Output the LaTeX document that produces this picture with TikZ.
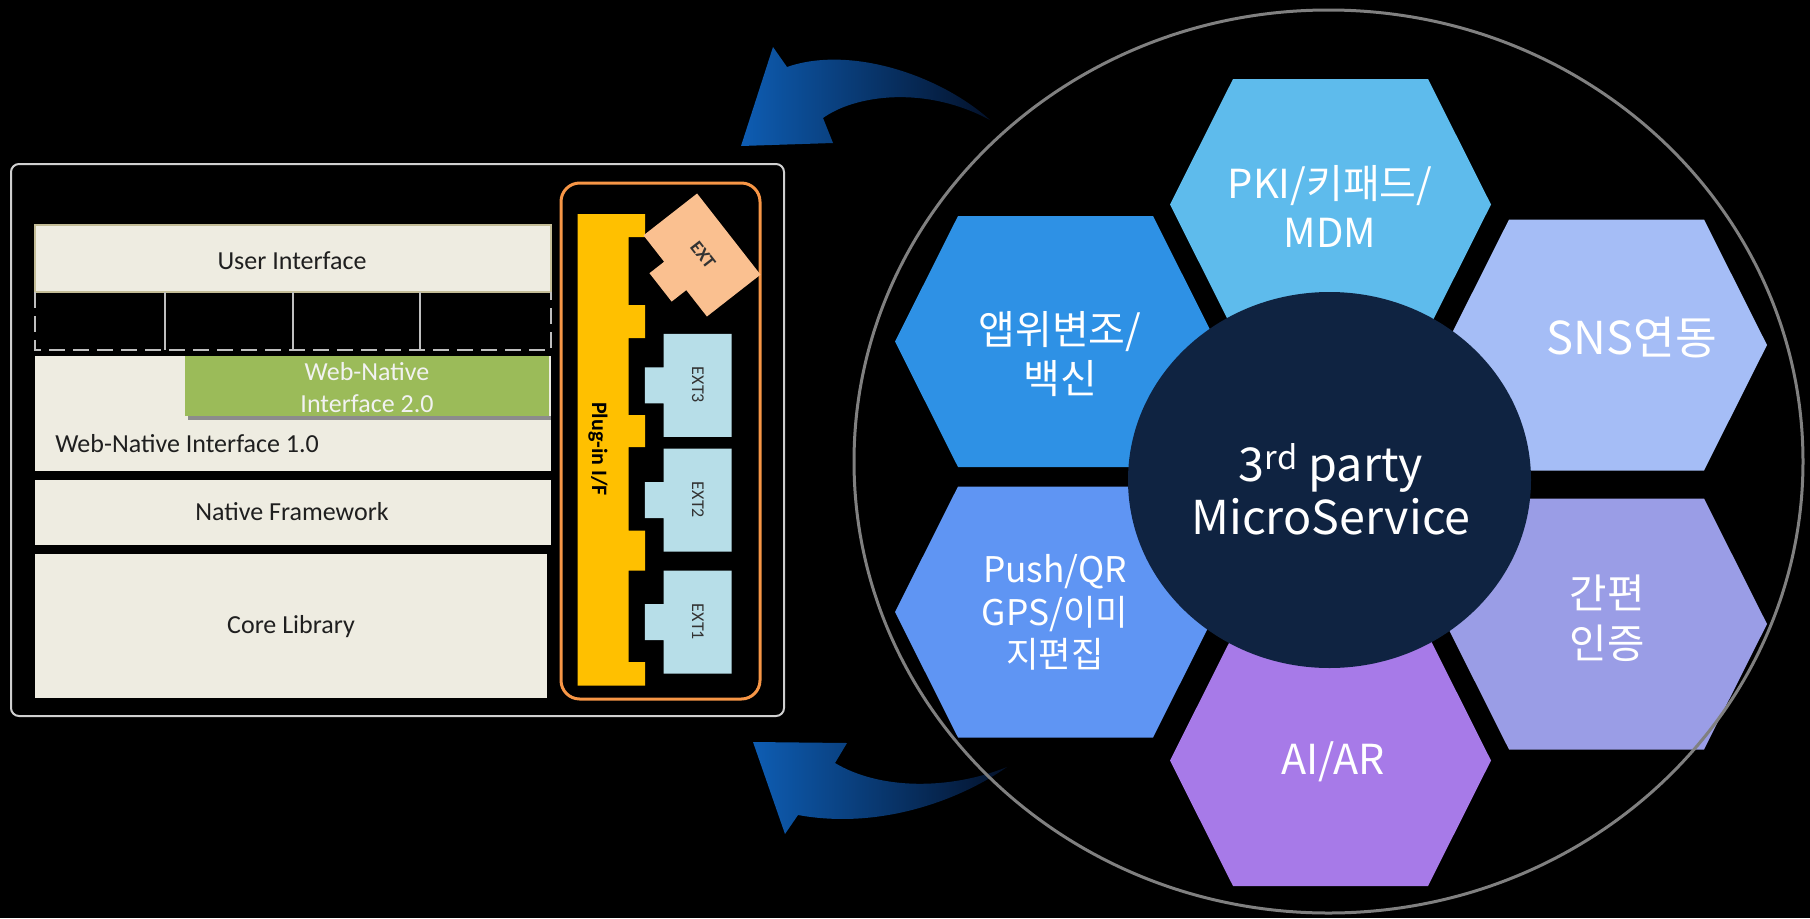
\documentclass[tikz,border=0pt]{standalone}
\usepackage{fontspec}
\setmainfont{Carlito}
\newfontfamily\krfont{Noto Sans CJK KR}
\usepackage{tikz}

\definecolor{tanbg}{HTML}{EEECE1}
\definecolor{tanline}{HTML}{C4BD97}
\definecolor{wnigreen}{HTML}{9BBB59}
\definecolor{plugyellow}{HTML}{FFC000}
\definecolor{plugorange}{HTML}{F79646}
\definecolor{extblue}{HTML}{B7DEE8}
\definecolor{extpeach}{HTML}{FAC090}
\definecolor{panelgray}{HTML}{D0D0D0}
\definecolor{ringgray}{HTML}{808080}
\definecolor{msnavy}{HTML}{0F2341}
\definecolor{hexpki}{HTML}{5EBBEC}
\definecolor{hexapp}{HTML}{2E91E5}
\definecolor{hexsns}{HTML}{A5BDF6}
\definecolor{hexpush}{HTML}{5F95F3}
\definecolor{hexauth}{HTML}{9A9DE6}
\definecolor{hexai}{HTML}{A77AE8}
\definecolor{arrowdark}{HTML}{0E5DB3}
\definecolor{arrowlight}{HTML}{2A95D0}
\definecolor{arrowtail}{HTML}{03112A}

% hexagon cell and extension piece around a centre
\newcommand{\hexcell}[2]{\fill[#1] (#2) +(-160.5,0) -- +(-97.5,-125.5) -- +(97.5,-125.5) -- +(160.5,0) -- +(97.5,125.5) -- +(-97.5,125.5) -- cycle;}
\newcommand{\extpiece}[2]{\fill[#1] (#2) +(-34,-51.5) -- +(34,-51.5) -- +(34,51.5) -- +(-34,51.5) -- +(-34,18) -- +(-52.6,18) -- +(-52.6,-18) -- +(-34,-18) -- cycle;}

\begin{document}
\begin{tikzpicture}[x=0.75pt,y=0.75pt,yscale=-1,xscale=1,
  layertext/.style={inner sep=0.75pt, text=black!88, font=\fontsize{19.5}{24}\selectfont},
  exttext/.style={inner sep=0.75pt, rotate=-90, text=black!80, font=\fontsize{13.5}{16}\selectfont},
  hexlabel/.style={inner sep=0.75pt, text=white, align=center, font=\krfont\fontsize{30}{37}\selectfont},
  blueflow/.style={left color=arrowdark, middle color=arrowlight, right color=arrowtail}]

%Background
\fill[black] (0,0) rectangle (1810,918);

%Shape: Rounded Rectangle [panel]
\draw[panelgray, line width=1.5pt, rounded corners=6pt] (11,164) rectangle (784,716);

%Shape: Rectangle [user interface]
\filldraw[fill=tanbg, draw=tanline, line width=1.2pt] (35,225) rectangle (551,292);
%Straight Lines [dashed gap]
\draw[white!75!black, line width=1.5pt, dash pattern=on 12pt off 6pt] (35,292) -- (35,350) -- (551,350) -- (551,292);
\draw[white!75!black, line width=1.5pt] (165,292) -- (165,350);
\draw[white!75!black, line width=1.5pt] (293,292) -- (293,350);
\draw[white!75!black, line width=1.5pt] (420,292) -- (420,350);
%Shape: Rectangle [web-native 1.0]
\fill[tanbg] (35,356) rectangle (551,471);
%Shape: Rectangle [web-native 2.0]
\fill[black!45] (188,416) rectangle (551,420);
\fill[wnigreen] (185,356) rectangle (549,416);
%Shape: Rectangle [native framework]
\fill[tanbg] (35,480) rectangle (551,545);
%Shape: Rectangle [core library]
\fill[tanbg] (35,554) rectangle (547,698);

%Shape: Rounded Rectangle [plug-in area]
\draw[plugorange, line width=2.25pt, rounded corners=14pt] (561,183) rectangle (760,699);
%Shape: Polygon [plug-in bar]
\fill[plugyellow] (577.5,214) -- (645,214) -- (645,237) -- (628.5,237) -- (628.5,305) -- (645,305) -- (645,338) -- (628.5,338) -- (628.5,415) -- (645,415) -- (645,447) -- (628.5,447) -- (628.5,530.5) -- (645,530.5) -- (645,570.5) -- (628.5,570.5) -- (628.5,662) -- (645,662) -- (645,685.5) -- (577.5,685.5) -- cycle;
%Shape: Extensions
\extpiece{extblue}{697.5,385.3}
\extpiece{extblue}{697.5,500}
\extpiece{extblue}{697.5,622}
\begin{scope}[shift={(702,255)}, rotate=-38]
\extpiece{extpeach}{0,0}
\end{scope}

%Shape: Curved Arrows
\shade[blueflow] (773,47) -- (741,146) -- (833,143) -- (823,118) .. controls (855,95) and (925,85) .. (990,120) .. controls (940,75) and (850,45) .. (787,67) -- cycle;
\shade[blueflow] (753,742) -- (847,743) -- (835,763) .. controls (880,790) and (950,790) .. (1007,767) .. controls (960,800) and (880,830) .. (798,815) -- (785,834) -- cycle;

%Shape: Hexagons
\hexcell{hexpki}{1330.5,204.5}
\hexcell{hexapp}{1055.5,341.5}
\hexcell{hexsns}{1606.5,345}
\hexcell{hexpush}{1055.5,612}
\hexcell{hexauth}{1606.5,624}
\hexcell{hexai}{1330.5,760.5}
%Shape: Ellipse [centre]
\fill[msnavy] (1329.5,480) ellipse [x radius=201.5, y radius=188];
%Shape: Ellipse [ring]
\draw[ringgray, line width=2.25pt] (1328.5,461.5) ellipse [x radius=474.5, y radius=451.5];

% Text Node
\node[layertext] (ui) at (292,261) {User Interface};
% Text Node
\node[layertext, text=white!95!black, align=center, font=\fontsize{19.5}{24}\selectfont] (wni2) at (367,388) {Web-Native\\Interface 2.0};
% Text Node
\node[layertext, anchor=west] (wni1) at (54,444) {Web-Native Interface 1.0};
% Text Node
\node[layertext] (natfw) at (292,512) {Native Framework};
% Text Node
\node[layertext] (corelib) at (291,627) {Core Library};
% Text Node
\node[inner sep=0.75pt, rotate=-90, font=\bfseries\fontsize{16.5}{20}\selectfont] (plugif) at (598,449) {Plug-in I/F};
% Text Node
\node[exttext] (extiii) at (698,385) {EXT3};
% Text Node
\node[exttext] (extii) at (698,500) {EXT2};
% Text Node
\node[exttext] (exti) at (698,622) {EXT1};
% Text Node
\node[inner sep=0.75pt, rotate=-52, text=black!80, font=\bfseries\fontsize{14}{16}\selectfont] (ext) at (703,255) {EXT};
% Text Node
\node[hexlabel] (pki) at (1330,206.5) {PKI/키패드/\\MDM};
% Text Node
\node[hexlabel, font=\krfont\fontsize{30}{36.5}\selectfont] (appsec) at (1060,354) {앱위변조/\\백신};
% Text Node
\node[hexlabel, font=\krfont\fontsize{34}{40}\selectfont] (sns) at (1632,337.5) {SNS연동};
% Text Node
\node[hexlabel, font=\krfont\fontsize{26.5}{32}\selectfont] (push) at (1055,612.5) {Push/QR\\GPS/이미\\지편집};
% Text Node
\node[hexlabel, font=\krfont\fontsize{30.5}{37.5}\selectfont] (auth) at (1607,618) {간편\\인증};
% Text Node
\node[hexlabel, font=\krfont\fontsize{31}{37}\selectfont] (aiar) at (1333,762) {AI/AR};
% Text Node
\node[hexlabel, font=\krfont\fontsize{35}{40}\selectfont] (micro) at (1331,489) {3\textsuperscript{rd} party\\MicroService};
\end{tikzpicture}
\end{document}
